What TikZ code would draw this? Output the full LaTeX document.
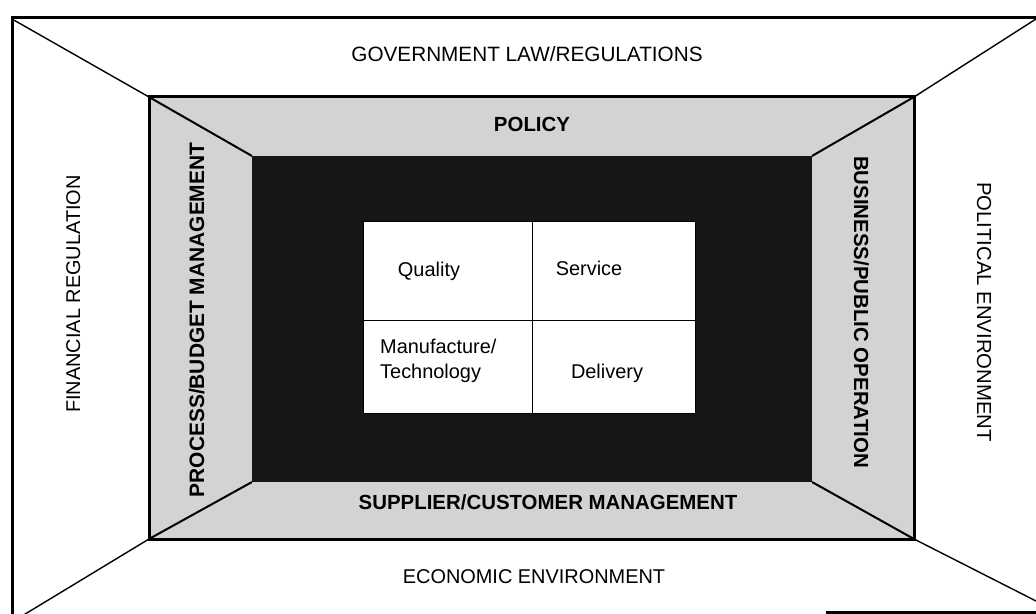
\documentclass[tikz,border=0pt]{standalone}
\usepackage{fontspec}
\setmainfont{Liberation Sans}
\definecolor{band}{HTML}{D3D3D3}
\definecolor{core}{HTML}{161616}
\begin{document}
\begin{tikzpicture}[x=1bp,y=-1bp,
  frame/.style={line width=3bp},
  spoke/.style={line width=1.4bp},
  inspoke/.style={line width=2bp},
  lbl/.style={font=\fontsize{20}{24}\selectfont, inner sep=0pt, anchor=base},
  boldlbl/.style={lbl, font=\fontsize{20.5}{24}\selectfont\bfseries},
  cell/.style={font=\fontsize{20}{25}\selectfont, inner sep=0pt}]
\useasboundingbox (0,0) rectangle (1036,614);
\clip (0,0) rectangle (1036,614);

% corner points of the three nested frames
\coordinate (oTL) at (12,19);
\coordinate (oTR) at (1036,19);
\coordinate (oBR) at (1036,601);
\coordinate (oBL) at (12,622);
\coordinate (mTL) at (149,97);
\coordinate (mTR) at (914,97);
\coordinate (mBR) at (914,539);
\coordinate (mBL) at (149,539);
\coordinate (iTL) at (252,156);
\coordinate (iTR) at (812,156);
\coordinate (iBR) at (812,482);
\coordinate (iBL) at (252,482);

% shaded middle band and dark core
\fill[band] (mTL) rectangle (mBR);
\fill[core] (iTL) rectangle (iBR);

% outer frame
\draw[frame] (1036,18) -- (12,18) -- (12,614);
\draw[frame] (826,612.5) -- (1036,612.5);

% outer spokes
\draw[spoke] (oTL) -- (mTL);
\draw[spoke] (oTR) -- (mTR);
\draw[spoke] (oBR) -- (mBR);
\draw[spoke] (oBL) -- (mBL);

% inner spokes
\draw[inspoke] (mTL) -- (iTL);
\draw[inspoke] (mTR) -- (iTR);
\draw[inspoke] (mBR) -- (iBR);
\draw[inspoke] (mBL) -- (iBL);

% middle frame border
\draw[frame] (mTL) rectangle (mBR);

% central 2x2 grid
\draw[line width=1bp, fill=white] (363,222) rectangle (695,413);
\draw[line width=1bp] (532,222) -- (532,413);
\draw[line width=1bp] (363,320) -- (695,320);

% quadrant labels
\node[cell, anchor=base] (quality) at (429,277) {Quality};
\node[cell, anchor=base] (service) at (589,276) {Service};
\node[cell, anchor=west, align=left] (manuf) at (380,361) {Manufacture/\\Technology};
\node[cell, anchor=base] (delivery) at (607,378) {Delivery};

% outer ring labels
\node[lbl, font=\fontsize{20.8}{24}\selectfont] (gov) at (527,62) {GOVERNMENT LAW/REGULATIONS};
\node[lbl] (econ) at (534,583) {ECONOMIC ENVIRONMENT};
\node[lbl, rotate=90] (fin) at (80,294) {FINANCIAL REGULATION};
\node[lbl, font=\fontsize{20.4}{24}\selectfont, rotate=-90] (pol) at (977,312) {POLITICAL ENVIRONMENT};

% middle band labels
\node[boldlbl] (policy) at (532,132) {POLICY};
\node[boldlbl] (supplier) at (548,509) {SUPPLIER/CUSTOMER MANAGEMENT};
\node[boldlbl, font=\fontsize{21}{24}\selectfont\bfseries, rotate=90] (process) at (204,320) {PROCESS/BUDGET MANAGEMENT};
\node[boldlbl, rotate=-90] (business) at (854,312) {BUSINESS/PUBLIC OPERATION};
\end{tikzpicture}
\end{document}
